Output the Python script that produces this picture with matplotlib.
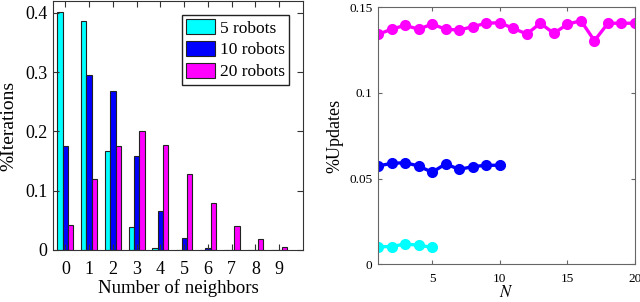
import matplotlib.pyplot as plt
import numpy as np

plt.rcParams['font.family'] = 'serif'
plt.rcParams['font.serif'] = ['Liberation Serif', 'DejaVu Serif']
plt.rcParams['mathtext.fontset'] = 'stix'

# left: histogram of neighbors
neighbors = np.arange(10)
r5 = [0.401, 0.387, 0.167, 0.038, 0.003, 0.0005, 0.0003, 0.0002, 0.0002, 0.0001]
r10 = [0.176, 0.296, 0.268, 0.159, 0.066, 0.021, 0.003, 0.0005, 0.0002, 0.0001]
r20 = [0.042, 0.119, 0.176, 0.201, 0.177, 0.128, 0.080, 0.040, 0.0185, 0.0056]

# right: %updates vs N
n5 = np.arange(1, 6)
u5 = [0.0103, 0.0103, 0.0119, 0.0111, 0.0099]
n10 = np.arange(1, 11)
u10 = [0.0574, 0.0589, 0.0593, 0.0574, 0.0537, 0.0586, 0.0554, 0.0570, 0.0578, 0.0578]
n20 = np.arange(1, 21)
u20 = [0.1342, 0.1372, 0.1395, 0.1372, 0.1402, 0.1372, 0.1367, 0.1387, 0.1407, 0.1410,
       0.1377, 0.1344, 0.1407, 0.1348, 0.1401, 0.1422, 0.1305, 0.1407, 0.1407, 0.1407]

W, H = 640, 302
fig = plt.figure(figsize=(6.4, 3.02), dpi=100)
spine = '#333333'

ax1 = fig.add_axes([53 / W, 52 / H, 250 / W, 249 / H])
w = 0.225
ax1.bar(neighbors - w, r5, w, color='cyan', edgecolor='#222222', linewidth=0.8, label='5 robots')
ax1.bar(neighbors, r10, w, color='blue', edgecolor='#222222', linewidth=0.8, label='10 robots')
ax1.bar(neighbors + w, r20, w, color='magenta', edgecolor='#222222', linewidth=0.8, label='20 robots')
ax1.set_xlim(-0.52, 10.0)
ax1.set_ylim(0, 0.42)
ax1.set_xticks(neighbors)
ax1.set_yticks([0, 0.1, 0.2, 0.3, 0.4])
ax1.set_yticklabels(['0', '0.1', '0.2', '0.3', '0.4'])
ax1.tick_params(direction='in', top=True, right=True, labelsize=13, length=4, color=spine, pad=4)
ax1.tick_params(axis='x', pad=8)
ax1.set_xlabel('Number of neighbors', fontsize=13.5, labelpad=1)
ax1.set_ylabel('%Iterations', fontsize=14)
ax1.yaxis.set_label_coords(-0.144, 0.5)
for s in ax1.spines.values():
    s.set_color(spine)
ax1.legend(loc='upper right', fontsize=12.5, fancybox=False, edgecolor='#222222',
           handlelength=1.7, handleheight=0.95, handletextpad=0.25, borderpad=0.25,
           labelspacing=0.25, borderaxespad=0.8, framealpha=1)

ax2 = fig.add_axes([378 / W, 37.7 / H, 257 / W, 257 / H])
kw = dict(marker='o', ms=6.5, mew=1.5, lw=2.4)
ax2.plot(n5, u5, color='cyan', mfc='cyan', **kw)
ax2.plot(n10, u10, color='blue', mfc='blue', **kw)
ax2.plot(n20, u20, color='magenta', mfc='magenta', **kw)
ax2.set_xlim(1, 20)
ax2.set_ylim(0, 0.15)
ax2.set_xticks([5, 10, 15, 20])
ax2.set_yticks([0, 0.05, 0.1, 0.15])
ax2.set_yticklabels(['0', '0.05', '0.1', '0.15'])
ax2.tick_params(direction='in', top=True, right=True, labelsize=9.5, length=3, color='#666666', pad=4)
ax2.tick_params(axis='x', pad=6)
ax2.set_xlabel('$N$', fontsize=12, labelpad=0)
ax2.set_ylabel('%Updates', fontsize=13)
ax2.yaxis.set_label_coords(-0.136, 0.5)
for s in ax2.spines.values():
    s.set_color('#666666')

fig.savefig('out.png', dpi=100)
